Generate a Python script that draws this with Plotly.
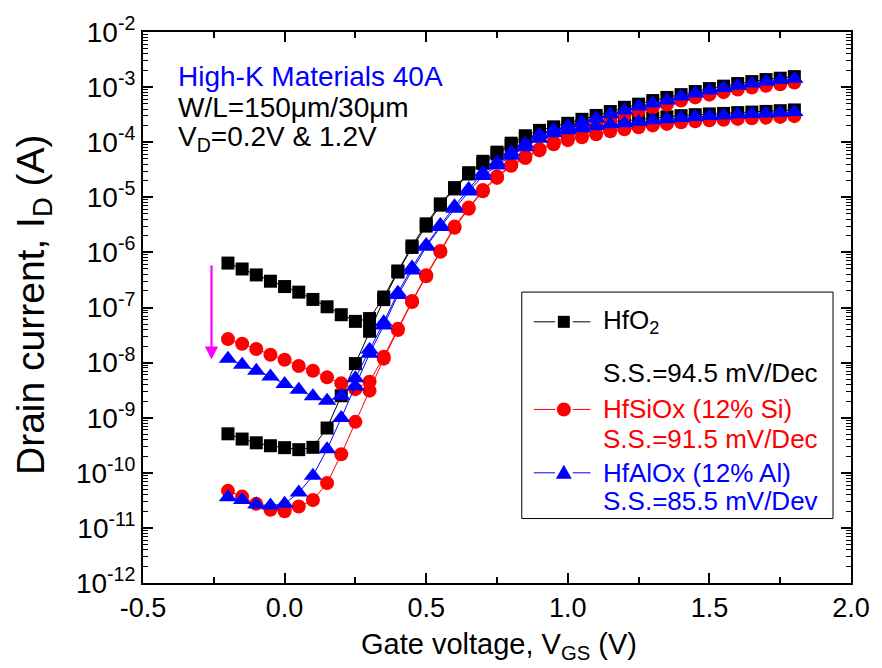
import plotly.graph_objects as go

# Gate voltage sweep (V)
vgs = [round(-0.2 + 0.05 * i, 2) for i in range(41)]

# Drain current (A), HfO2, VD = 1.2 V
hfo2_hi = [6.4e-7, 5.0e-7, 3.9e-7, 3.0e-7, 2.4e-7, 1.9e-7, 1.4e-7, 1.03e-7, 7.4e-8, 5.6e-8,
           6.3e-8, 1.55e-7, 4.6e-7, 1.31e-6, 3.3e-6, 7.6e-6, 1.5e-5, 2.8e-5, 4.5e-5, 6.6e-5,
           9.6e-5, 1.31e-4, 1.64e-4, 1.9e-4, 2.2e-4, 2.6e-4, 3.06e-4, 3.6e-4, 4.3e-4, 4.9e-4,
           5.7e-4, 6.5e-4, 7.3e-4, 8.3e-4, 9.4e-4, 1.04e-3, 1.16e-3, 1.26e-3, 1.37e-3, 1.45e-3,
           1.55e-3]
# HfO2, VD = 0.2 V
hfo2_lo = [5.1e-10, 4.1e-10, 3.5e-10, 3.1e-10, 2.86e-10, 2.63e-10, 2.9e-10, 6.5e-10, 2.5e-9, 9.6e-9,
           3.7e-8, 1.39e-7, 4.4e-7, 1.23e-6, 3.0e-6, 7.2e-6, 1.42e-5, 2.65e-5, 4.1e-5, 6.1e-5,
           8.65e-5, 1.18e-4, 1.45e-4, 1.68e-4, 1.86e-4, 2.02e-4, 2.2e-4, 2.34e-4, 2.44e-4, 2.6e-4,
           2.76e-4, 2.88e-4, 3.03e-4, 3.16e-4, 3.26e-4, 3.33e-4, 3.44e-4, 3.52e-4, 3.62e-4, 3.73e-4,
           3.85e-4]
# HfSiOx (12% Si), VD = 1.2 V
hfsiox_hi = [2.67e-8, 2.2e-8, 1.77e-8, 1.39e-8, 1.13e-8, 8.7e-9, 7.1e-9, 5.4e-9, 4.2e-9, 3.3e-9,
             4.5e-9, 1.28e-8, 4.1e-8, 1.31e-7, 3.85e-7, 1.06e-6, 2.94e-6, 6.5e-6, 1.36e-5, 2.39e-5,
             3.9e-5, 5.5e-5, 7.5e-5, 1.0e-4, 1.28e-4, 1.58e-4, 2.02e-4, 2.49e-4, 3.06e-4, 3.62e-4,
             4.27e-4, 4.84e-4, 5.7e-4, 6.5e-4, 7.3e-4, 8.1e-4, 9.0e-4, 9.8e-4, 1.06e-3, 1.13e-3,
             1.21e-3]
# HfSiOx (12% Si), VD = 0.2 V
hfsiox_lo = [4.7e-11, 3.7e-11, 2.73e-11, 2.13e-11, 2.0e-11, 2.44e-11, 3.2e-11, 6.5e-11, 2.17e-10, 8.4e-10,
             3.1e-9, 1.18e-8, 3.9e-8, 1.26e-7, 3.7e-7, 1.03e-6, 2.8e-6, 6.2e-6, 1.29e-5, 2.25e-5,
             3.74e-5, 5.15e-5, 7.1e-5, 9.2e-5, 1.09e-4, 1.23e-4, 1.39e-4, 1.58e-4, 1.71e-4, 1.86e-4,
             2.02e-4, 2.15e-4, 2.29e-4, 2.39e-4, 2.49e-4, 2.56e-4, 2.65e-4, 2.71e-4, 2.79e-4, 2.88e-4,
             2.97e-4]
# HfAlOx (12% Al), VD = 1.2 V
hfalox_hi = [1.17e-8, 9.1e-9, 7.1e-9, 5.6e-9, 4.07e-9, 3.22e-9, 2.44e-9, 2.04e-9, 2.49e-9, 5.2e-9,
             1.71e-8, 5.4e-8, 1.86e-7, 5.3e-7, 1.36e-6, 3.13e-6, 6.9e-6, 1.42e-5, 2.8e-5, 4.27e-5,
             6.6e-5, 9.4e-5, 1.36e-4, 1.68e-4, 1.94e-4, 2.29e-4, 2.71e-4, 3.2e-4, 3.77e-4, 4.45e-4,
             5.04e-4, 5.7e-4, 6.75e-4, 7.64e-4, 8.65e-4, 9.6e-4, 1.06e-3, 1.16e-3, 1.26e-3, 1.34e-3,
             1.42e-3]
# HfAlOx (12% Al), VD = 0.2 V
hfalox_lo = [3.6e-11, 3.2e-11, 2.65e-11, 2.54e-11, 2.73e-11, 4.4e-11, 8.8e-11, 2.67e-10, 9.9e-10, 3.7e-9,
             1.45e-8, 4.7e-8, 1.68e-7, 4.7e-7, 1.26e-6, 2.88e-6, 6.2e-6, 1.28e-5, 2.44e-5, 3.77e-5,
             5.7e-5, 8.1e-5, 1.16e-4, 1.45e-4, 1.64e-4, 1.79e-4, 1.94e-4, 2.11e-4, 2.2e-4, 2.34e-4,
             2.49e-4, 2.6e-4, 2.76e-4, 2.88e-4, 3.0e-4, 3.06e-4, 3.17e-4, 3.24e-4, 3.33e-4, 3.43e-4,
             3.55e-4]

x_ticks = [-0.5, 0.0, 0.5, 1.0, 1.5, 2.0]
x_ticktext = ["-0.5", "0.0", "0.5", "1.0", "1.5", "2.0"]
y_exponents = list(range(-12, -1))
y_ticks = [10.0 ** e for e in y_exponents]
y_ticktext = [f"10<sup>{e}</sup>" for e in y_exponents]
y_minor = [k * 10.0 ** e for e in range(-12, -2) for k in range(2, 10)]

BLACK, RED, BLUE, MAGENTA = "#000000", "#ff0000", "#0000ff", "#ff00ff"
FONT = "Liberation Sans, Arial, sans-serif"

series = [
    (hfo2_hi, BLACK, "square", 13),
    (hfo2_lo, BLACK, "square", 13),
    (hfsiox_hi, RED, "circle", 14),
    (hfsiox_lo, RED, "circle", 14),
    (hfalox_hi, BLUE, "triangle-up", 16),
    (hfalox_lo, BLUE, "triangle-up", 16),
]

fig = go.Figure()
for vals, color, symbol, size in series:
    fig.add_trace(go.Scatter(
        x=vgs, y=vals, mode="lines+markers",
        line=dict(color=color, width=1),
        marker=dict(symbol=symbol, size=size, color=color, line=dict(width=0)),
        showlegend=False, hoverinfo="skip",
    ))

axis_common = dict(
    showline=True, linewidth=2, linecolor="black", mirror="allticks",
    ticks="inside", ticklen=10, tickwidth=2, tickcolor="black",
    showgrid=False, zeroline=False,
)

fig.update_xaxes(
    range=[-0.5, 2.0], tickmode="array", tickvals=x_ticks, ticktext=x_ticktext,
    tickfont=dict(family=FONT, size=27, color="black"),
    minor=dict(ticks="inside", ticklen=6, tickwidth=1.5, tickcolor="black", dtick=0.25),
    **axis_common,
)
fig.update_yaxes(
    type="log", range=[-12, -2], tickmode="array", tickvals=y_ticks, ticktext=y_ticktext,
    tickfont=dict(family=FONT, size=28, color="black"),
    minor=dict(ticks="inside", ticklen=5, tickwidth=1, tickcolor="black",
               tickmode="array", tickvals=y_minor),
    **axis_common,
)

annotations = [
    dict(text="High-K Materials 40A", x=0.046, y=0.919, font=dict(color=BLUE, size=28)),
    dict(text="W/L=150\u03bcm/30\u03bcm", x=0.046, y=0.863, font=dict(color=BLACK, size=28)),
    dict(text="V<sub>D</sub>=0.2V & 1.2V", x=0.046, y=0.807, font=dict(color=BLACK, size=28)),
    # legend texts
    dict(text="HfO<sub>2</sub>", x=0.6465, y=0.474, font=dict(color=BLACK, size=26)),
    dict(text="S.S.=94.5 mV/Dec", x=0.6465, y=0.382, font=dict(color=BLACK, size=26)),
    dict(text="HfSiOx (12% Si)", x=0.6465, y=0.315, font=dict(color=RED, size=26)),
    dict(text="S.S.=91.5 mV/Dec", x=0.6465, y=0.261, font=dict(color=RED, size=26)),
    dict(text="HfAlOx (12% Al)", x=0.6465, y=0.200, font=dict(color=BLUE, size=26)),
    dict(text="S.S.=85.5 mV/Dev", x=0.6465, y=0.1495, font=dict(color=BLUE, size=26)),
]
for a in annotations:
    a.update(xref="paper", yref="paper", xanchor="left", yanchor="middle", showarrow=False)
    a["font"]["family"] = FONT

# axis titles
annotations.append(dict(
    text="Gate voltage, V<sub>GS</sub> (V)", xref="paper", yref="paper", x=0.503, y=-0.114,
    xanchor="center", yanchor="middle", showarrow=False,
    font=dict(family=FONT, size=29, color="black")))
annotations.append(dict(
    text="Drain current, I<sub>D</sub> (A)", xref="paper", yref="paper", x=-0.155, y=0.505,
    xanchor="center", yanchor="middle", textangle=-90, showarrow=False,
    font=dict(family=FONT, size=39, color="black")))

# downward arrow marking the off-current reduction
annotations.append(dict(
    x=-0.258, y=-7.946, ax=-0.258, ay=-6.211, xref="x", yref="y", axref="x", ayref="y",
    text="", showarrow=True, arrowhead=2, arrowsize=1.2, arrowwidth=2.2, arrowcolor=MAGENTA))

fig.update_layout(annotations=annotations)

# legend frame and key symbols
shapes = [dict(type="rect", xref="paper", yref="paper", x0=0.535, x1=0.9746, y0=0.117, y1=0.528,
               line=dict(color="black", width=1), fillcolor="rgba(0,0,0,0)")]
key_rows = [(0.474, BLACK, "square"), (0.315, RED, "circle"), (0.200, BLUE, "triangle")]
for ky, color, kind in key_rows:
    for x0, x1 in [(0.552, 0.582), (0.607, 0.632)]:
        shapes.append(dict(type="line", xref="paper", yref="paper", x0=x0, x1=x1, y0=ky, y1=ky,
                           line=dict(color=color, width=1)))
    common = dict(xref="paper", yref="paper", xsizemode="pixel", ysizemode="pixel",
                  xanchor=0.5944, yanchor=ky, fillcolor=color, line=dict(color=color, width=0))
    if kind == "square":
        shapes.append(dict(type="rect", x0=-6, x1=6, y0=-6, y1=6, **common))
    elif kind == "circle":
        shapes.append(dict(type="circle", x0=-7, x1=7, y0=-7, y1=7, **common))
    else:
        shapes.append(dict(type="path", path="M-8,-6 L8,-6 L0,8 Z", **common))

fig.update_layout(
    width=882, height=668,
    margin=dict(l=143, r=29, t=28, b=85),
    plot_bgcolor="white", paper_bgcolor="white",
    showlegend=False, shapes=shapes,
    font=dict(family=FONT, color="black"),
)

fig.write_html("out.html")
